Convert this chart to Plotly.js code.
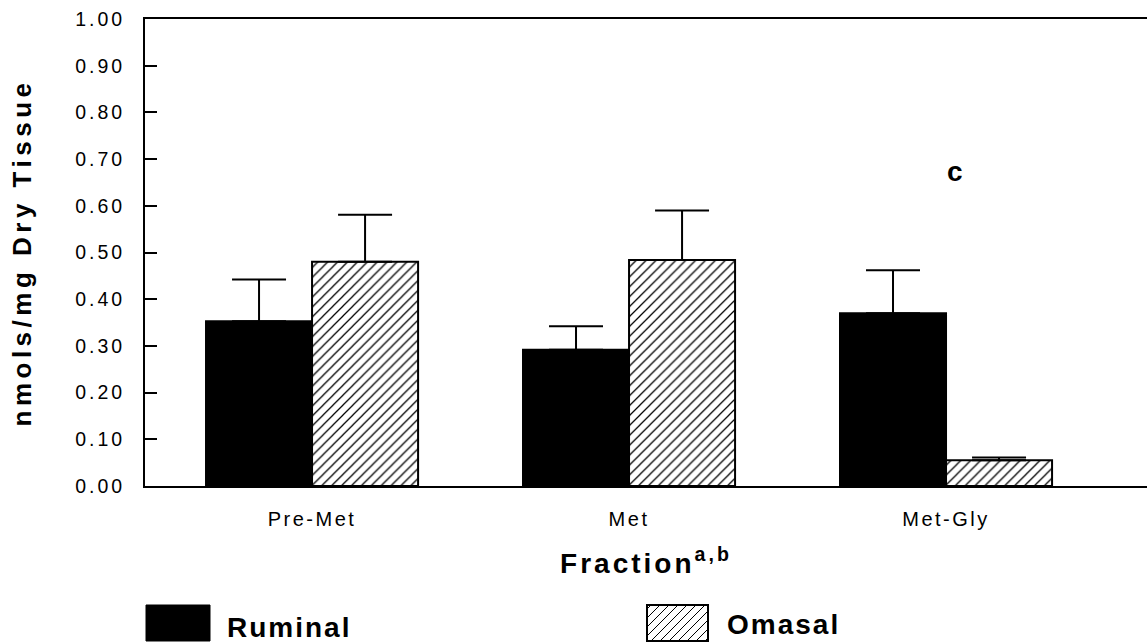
<!DOCTYPE html>
<html>
<head>
<meta charset="utf-8">
<script src="https://cdn.plot.ly/plotly-3.0.1.min.js"></script>
<style>
  html, body { margin: 0; padding: 0; background: #ffffff; }
  #chart { width: 1147px; height: 644px; }
  g.ytick text { letter-spacing: 3px; }
  g.xtick text { letter-spacing: 2.5px; }
  text.ytitle { letter-spacing: 4.5px; }
  text.xtitle { letter-spacing: 3px; }
  g.annotation text { letter-spacing: 2px; }
</style>
</head>
<body>
<div id="chart"></div>
<script>
// ---- data ----
const categories = ["Pre-Met", "Met", "Met-Gly"];
const seriesNames = ["Ruminal", "Omasal"];
const ruminalValues = [0.353, 0.292, 0.370];
const ruminalErrors = [0.089, 0.050, 0.092];
const omasalValues = [0.480, 0.484, 0.055];
const omasalErrors = [0.101, 0.106, 0.006];
const yTickValues = [0, 0.1, 0.2, 0.3, 0.4, 0.5, 0.6, 0.7, 0.8, 0.9, 1.0];
const significanceLabel = { category: "Met-Gly", value: 0.673, text: "c" };
const yTitle = "nmols/mg Dry Tissue";
const xTitle = "Fraction<sup>a,b</sup>";

const FONT = "Liberation Sans, Arial, Helvetica, sans-serif";
const zeros = categories.map(() => 0);

const traces = [
  {
    type: "bar", name: seriesNames[0], x: categories, y: ruminalValues,
    marker: { color: "#000000", line: { color: "#000000", width: 2 } },
    error_y: { type: "data", symmetric: false, array: ruminalErrors, arrayminus: zeros,
               color: "#000000", thickness: 2, width: 27 },
    showlegend: false, hoverinfo: "skip"
  },
  {
    type: "bar", name: seriesNames[1], x: categories, y: omasalValues,
    marker: { color: "#ffffff", line: { color: "#000000", width: 2 },
              pattern: { shape: "/", size: 7, solidity: 0.18, fgcolor: "#000000",
                         bgcolor: "#ffffff", fillmode: "replace" } },
    error_y: { type: "data", symmetric: false, array: omasalErrors, arrayminus: zeros,
               color: "#000000", thickness: 2, width: 27 },
    showlegend: false, hoverinfo: "skip"
  }
];

// ---- custom legend (large swatches as in the reference) ----
const W = 1147, H = 644, ML = 145, MR = 0, MT = 19, MB = 158;
const PW = W - ML - MR, PH = H - MT - MB;
const px2x = p => (p - ML) / PW;
const py2y = p => (H - MB - p) / PH;

const shapes = [];
const annotations = [];

// Ruminal swatch: solid black box
shapes.push({ type: "rect", xref: "paper", yref: "paper",
  x0: px2x(146), x1: px2x(210), y0: py2y(641), y1: py2y(605),
  fillcolor: "#000000", line: { color: "#000000", width: 1 } });
// Omasal swatch: outlined box with diagonal hatching
const sx = px2x(647), sy = py2y(641), sw = 61, sh = 36, step = 9;
shapes.push({ type: "rect", xref: "paper", yref: "paper",
  xsizemode: "pixel", ysizemode: "pixel", xanchor: sx, yanchor: sy,
  x0: 0, x1: sw, y0: 0, y1: sh, fillcolor: "#ffffff",
  line: { color: "#000000", width: 2 } });
for (let c = -sh + 4; c < sw; c += step) {
  const xa = Math.max(0, c), xb = Math.min(sw, c + sh);
  if (xb - xa < 2) continue;
  shapes.push({ type: "line", xref: "paper", yref: "paper",
    xsizemode: "pixel", ysizemode: "pixel", xanchor: sx, yanchor: sy,
    x0: xa, y0: xa - c, x1: xb, y1: xb - c,
    line: { color: "#000000", width: 1 } });
}
annotations.push({ xref: "paper", yref: "paper", x: px2x(232), y: py2y(627),
  xanchor: "left", yanchor: "middle", showarrow: false, text: seriesNames[0],
  font: { family: FONT, size: 28, color: "#000000", weight: "bold" } });
annotations.push({ xref: "paper", yref: "paper", x: px2x(731), y: py2y(624),
  xanchor: "left", yanchor: "middle", showarrow: false, text: seriesNames[1],
  font: { family: FONT, size: 28, color: "#000000", weight: "bold" } });
// significance letter
annotations.push({ xref: "x", yref: "y", x: significanceLabel.category, y: significanceLabel.value,
  xshift: 10, showarrow: false, text: significanceLabel.text,
  font: { family: FONT, size: 28, color: "#000000", weight: "bold" } });

const layout = {
  width: W, height: H,
  margin: { l: ML, r: MR, t: MT, b: MB, pad: 0 },
  paper_bgcolor: "#ffffff", plot_bgcolor: "#ffffff",
  font: { family: FONT, color: "#000000" },
  barmode: "group", bargap: 0.331, bargroupgap: 0,
  xaxis: {
    type: "category", range: [-0.527, 2.634], autorange: false,
    showline: true, linecolor: "#000000", linewidth: 2, mirror: true,
    showgrid: false, zeroline: false, ticks: "",
    tickfont: { family: FONT, size: 20, color: "#000000" },
    ticklabelstandoff: 14,
    title: { text: xTitle, standoff: 24,
             font: { family: FONT, size: 28, color: "#000000", weight: "bold" } },
    automargin: false, fixedrange: true
  },
  yaxis: {
    range: [0, 1.0], autorange: false,
    showline: true, linecolor: "#000000", linewidth: 2, mirror: false,
    showgrid: false, zeroline: false,
    tickmode: "array", tickvals: yTickValues,
    tickformat: ".2f",
    ticks: "inside", ticklen: 12, tickwidth: 2, tickcolor: "#000000",
    tickfont: { family: FONT, size: 19.5, color: "#000000" },
    ticklabelstandoff: 14,
    title: { text: yTitle, standoff: 36,
             font: { family: FONT, size: 26, color: "#000000", weight: "bold" } },
    automargin: false, fixedrange: true
  },
  shapes: shapes,
  annotations: annotations,
  showlegend: false
};

Plotly.newPlot("chart", traces, layout, { staticPlot: true, displayModeBar: false });
</script>
</body>
</html>
